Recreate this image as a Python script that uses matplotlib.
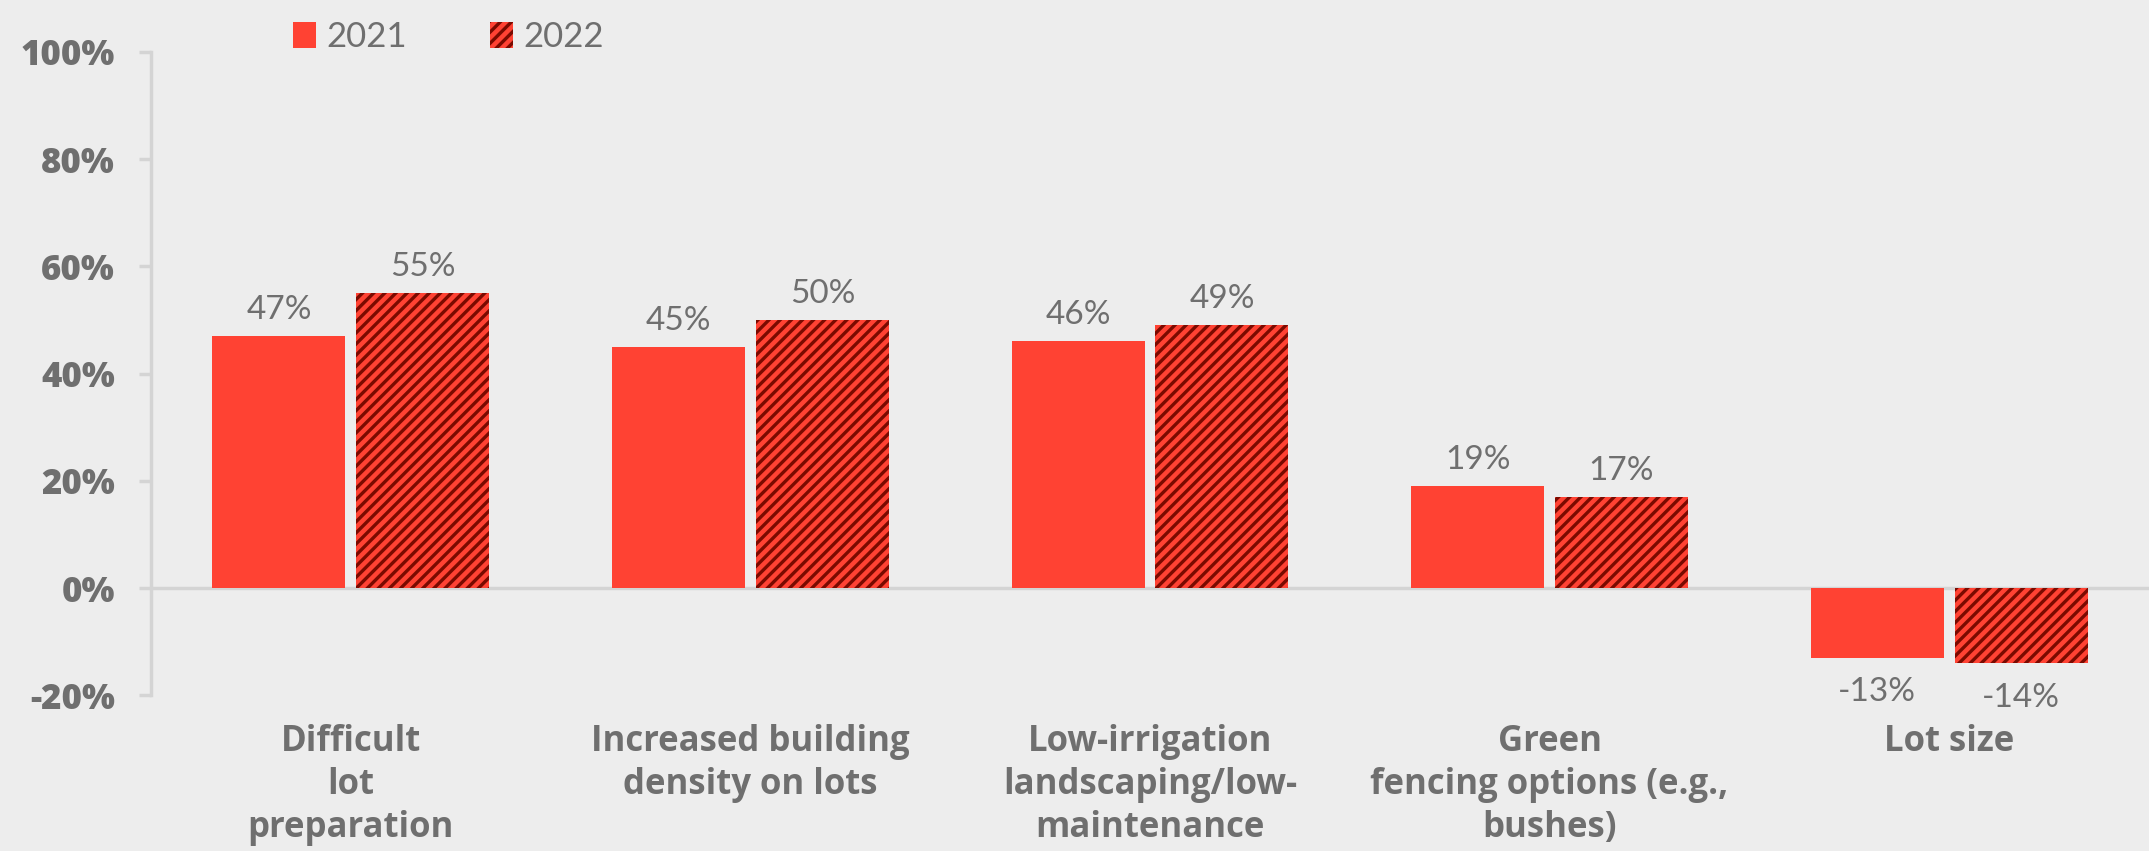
import numpy as np
import matplotlib.pyplot as plt
from matplotlib.patches import Patch

# survey results by category
categories = ["Difficult\nlot\npreparation",
              "Increased building\ndensity on lots",
              "Low-irrigation\nlandscaping/low-\nmaintenance",
              "Green\nfencing options (e.g.,\nbushes)",
              "Lot size"]
values_2021 = [47, 45, 46, 19, -13]
values_2022 = [55, 50, 49, 17, -14]
series_names = ["2021", "2022"]

bg = "#EDEDED"
red = "#FF4233"
stripe = "#7A0A00"
grey = "#6F6F6F"
axis_grey = "#D4D4D4"

plt.rcParams['hatch.color'] = stripe
plt.rcParams['hatch.linewidth'] = 2.4

fig = plt.figure(figsize=(21.49, 8.51), dpi=100, facecolor=bg)
ax = fig.add_axes([0.0703, 0.183, 0.9297, 0.756])
ax.set_facecolor(bg)

x = np.arange(len(categories))
w = 0.333
off = 0.18

b1 = ax.bar(x - off, np.array(values_2021) / 100, w, color=red, linewidth=0)
b2 = ax.bar(x + off, np.array(values_2022) / 100, w, color=red, hatch='///',
            edgecolor=stripe, linewidth=0)

for bars, vals in [(b1, values_2021), (b2, values_2022)]:
    for bar, v in zip(bars, vals):
        cx = bar.get_x() + bar.get_width() / 2
        if v >= 0:
            ax.annotate(f"{v}%", (cx, v / 100), xytext=(0, 8), textcoords='offset points',
                        ha='center', va='bottom', fontsize=24, color=grey,
                        family='Lato')
        else:
            ax.annotate(f"{v}%", (cx, v / 100), xytext=(0, -14), textcoords='offset points',
                        ha='center', va='top', fontsize=24, color=grey,
                        family='Lato')

ax.set_xlim(-0.5, len(categories) - 0.5)
ax.set_ylim(-0.2, 1.0)
ax.set_yticks(np.arange(-0.2, 1.01, 0.2))
ax.set_yticklabels([f"{int(round(t * 100))}%" for t in np.arange(-0.2, 1.01, 0.2)])
ax.axhline(0, color=axis_grey, linewidth=2.5, zorder=0.5)

for s in ['top', 'right', 'bottom']:
    ax.spines[s].set_visible(False)
ax.spines['left'].set_color(axis_grey)
ax.spines['left'].set_linewidth(2.5)

ax.tick_params(axis='y', colors=axis_grey, length=9, width=2.5, pad=17)
for lbl in ax.get_yticklabels():
    lbl.set_color(grey)
    lbl.set_fontsize(25)
    lbl.set_fontweight('heavy')
    lbl.set_family('Open Sans')

ax.set_xticks(x)
ax.set_xticklabels(categories, fontsize=25, fontweight='bold', color=grey,
                   family='Open Sans', linespacing=1.25)
ax.tick_params(axis='x', length=0, pad=21)

handles = [Patch(facecolor=red, linewidth=0),
           Patch(facecolor=red, hatch='///', edgecolor=stripe, linewidth=0)]
leg = fig.legend(handles, series_names, loc='upper left', bbox_to_anchor=(0.122, 1.012),
                 ncol=2, frameon=False, handlelength=0.65, handleheight=0.75,
                 handletextpad=0.3, columnspacing=2.4,
                 prop={'family': 'Lato', 'size': 25})
for t in leg.get_texts():
    t.set_color(grey)

fig.savefig("out.png", dpi=100, facecolor=bg)
